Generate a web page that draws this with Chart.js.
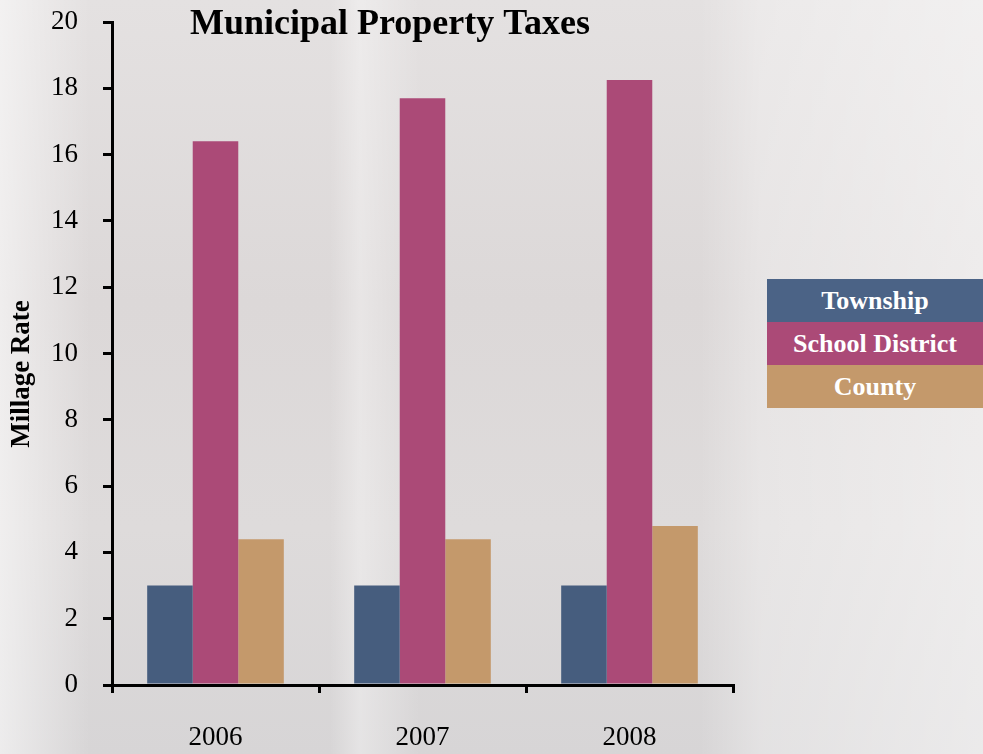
<!DOCTYPE html>
<html>
<head>
<meta charset="utf-8">
<script src="https://cdn.jsdelivr.net/npm/chart.js@4"></script>
<style>
  html, body { margin: 0; padding: 0; }
  body {
    width: 983px; height: 754px; overflow: hidden; position: relative;
    background:
      linear-gradient(90deg, rgba(255,255,255,0.55) 0px, rgba(255,255,255,0) 90px,
        rgba(255,255,255,0) 330px, rgba(255,255,255,0.35) 360px, rgba(255,255,255,0) 420px,
        rgba(255,255,255,0) 700px, rgba(255,255,255,0.3) 760px, rgba(255,255,255,0.5) 983px),
      linear-gradient(180deg, #e4e1e1 0%, #dcd8d8 40%, #dedbdb 70%, #d7d5d6 100%);
  }
  #chart { position: absolute; left: 0; top: 0; }
  #legend { position: absolute; left: 767px; top: 279px; width: 216px; }
  #legend div {
    font: bold 26px "Liberation Serif", serif;
    height: 43px; line-height: 43px; text-align: center; color: #fff;
  }
</style>
</head>
<body>
<canvas id="chart" width="983" height="754"></canvas>
<div id="legend"></div>
<script>
const years = ['2006', '2007', '2008'];
const township = [3.0, 3.0, 3.0];
const schoolDistrict = [16.4, 17.7, 18.25];
const county = [4.4, 4.4, 4.8];
const yTicks = [0, 2, 4, 6, 8, 10, 12, 14, 16, 18, 20];

const colors = ['#465d7e', '#ab4a77', '#c4996b'];
const legendColors = ['#4b6386', '#ab4a77', '#c4996b'];
const serif = '"Liberation Serif", serif';

// title and axis title sit over the plot, not in the layout
const textPlugin = {
    id: 'overText',
    afterDraw(chart) {
        const ctx = chart.ctx;
        ctx.save();
        ctx.fillStyle = '#000';
        ctx.textAlign = 'center';
        ctx.textBaseline = 'middle';
        ctx.font = 'bold 36px ' + serif;
        ctx.fillText('Municipal Property Taxes', 390, 25);
        ctx.translate(22, 374);
        ctx.rotate(-Math.PI / 2);
        ctx.font = 'bold 27px ' + serif;
        ctx.fillText('Millage Rate', 0, 0);
        ctx.restore();
    }
};

const chart = new Chart(document.getElementById('chart'), {
    type: 'bar',
    data: {
        labels: years,
        datasets: [
            { label: 'Township', data: township, backgroundColor: colors[0] },
            { label: 'School District', data: schoolDistrict, backgroundColor: colors[1] },
            { label: 'County', data: county, backgroundColor: colors[2] }
        ]
    },
    options: {
        responsive: false,
        animation: false,
        layout: { padding: { top: 22, right: 250, left: 0, bottom: 0 } },
        datasets: { bar: { categoryPercentage: 0.66, barPercentage: 1.0 } },
        plugins: {
            legend: { display: false },
            tooltip: { enabled: false }
        },
        scales: {
            x: {
                grid: { drawOnChartArea: false, color: '#000', lineWidth: 3, tickLength: 8, offset: true },
                border: { color: '#000', width: 3 },
                ticks: { color: '#000', font: { family: serif, size: 27 }, padding: 29 },
                afterFit(scale) {
                    scale.height = 69;
                    scale.paddingLeft = 0;
                    scale.paddingRight = 0;
                }
            },
            y: {
                min: 0, max: 20,
                afterBuildTicks(scale) { scale.ticks = yTicks.map(v => ({ value: v })); },
                grid: { drawOnChartArea: false, color: '#000', lineWidth: 3, tickLength: 9 },
                border: { color: '#000', width: 3 },
                ticks: { color: '#000', font: { family: serif, size: 27 }, padding: 25 },
                afterFit(scale) {
                    scale.width = 112;
                    scale.paddingTop = 0;
                    scale.paddingBottom = 0;
                }
            }
        }
    },
    plugins: [textPlugin]
});

document.getElementById('legend').innerHTML = chart.data.datasets.map((ds, i) =>
    `<div style="background:${legendColors[i]}">${ds.label}</div>`
).join('');
</script>
</body>
</html>
